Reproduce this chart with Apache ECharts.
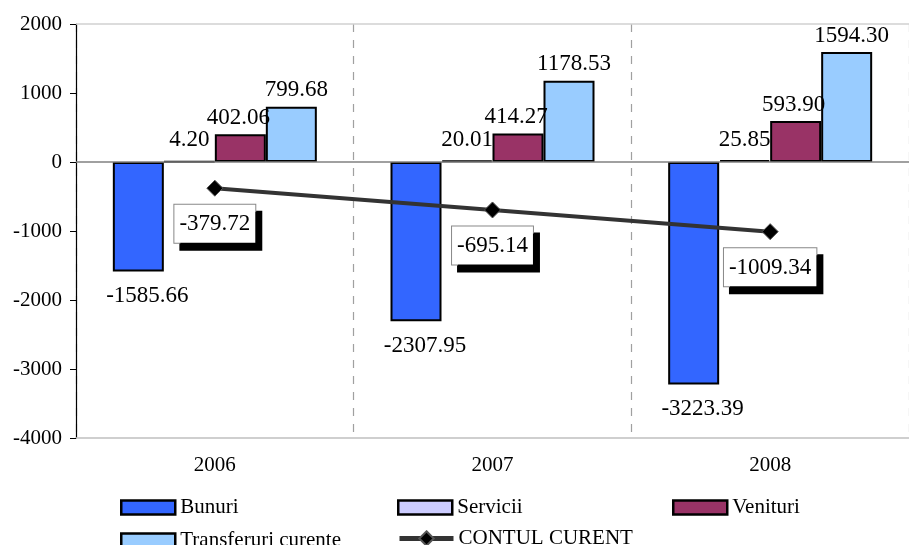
<!DOCTYPE html>
<html>
<head>
<meta charset="utf-8">
<script src="https://cdn.jsdelivr.net/npm/echarts@6/dist/echarts.min.js"></script>
<style>
html,body{margin:0;padding:0;background:#fff;}
#c{width:909px;height:545px;}
</style>
</head>
<body>
<div id="c"></div>
<script>
const years = ['2006', '2007', '2008'];
const bunuri = [-1585.66, -2307.95, -3223.39];
const servicii = [4.20, 20.01, 25.85];
const venituri = [402.06, 414.27, 593.90];
const transferuri = [799.68, 1178.53, 1594.30];
const contul = [-379.72, -695.14, -1009.34];
const yTicks = [-4000, -3000, -2000, -1000, 0, 1000, 2000];

const FONT = 'Liberation Serif';
const LBL = 23;
const chart = echarts.init(document.getElementById('c'));

const fmt = p => p.value.toFixed(2);

function lbl(pos, distance, offset) {
  return { show: true, position: pos, distance: distance, offset: offset || [0, 0],
           formatter: fmt, fontFamily: FONT, fontSize: LBL, color: '#000' };
}

function barSeries(name, data, color, label, extra) {
  return Object.assign({
    name: name,
    type: 'bar',
    data: data,
    barWidth: 51,
    barGap: '0%',
    itemStyle: { color: color, borderColor: '#000', borderWidth: 2 },
    label: label,
    emphasis: { disabled: true }
  }, extra || {});
}

const legendBase = {
  itemWidth: 54,
  itemHeight: 14,
  itemGap: 4,
  textStyle: { fontFamily: FONT, fontSize: 21, color: '#000' },
  selectedMode: false
};
const rectLegend = { icon: 'rect', itemStyle: { borderColor: '#000', borderWidth: 2.5 } };

const option = {
  animation: false,
  backgroundColor: '#fff',
  grid: { left: 76, top: 24, width: 840, height: 414 },
  legend: [
    Object.assign({}, legendBase, rectLegend, { left: 115, top: 492, data: ['Bunuri'] }),
    Object.assign({}, legendBase, rectLegend, { left: 392, top: 492, data: ['Servicii'] }),
    Object.assign({}, legendBase, rectLegend, { left: 667, top: 492, data: ['Venituri'] }),
    Object.assign({}, legendBase, rectLegend, { left: 115, top: 525, data: ['Transferuri curente'] }),
    Object.assign({}, legendBase, { left: 392, top: 523, itemHeight: 18,
      lineStyle: { width: 5, color: '#333333' },
      itemStyle: { color: '#000' },
      data: ['CONTUL CURENT'] })
  ],
  xAxis: {
    type: 'category',
    data: years,
    axisLine: { onZero: false, lineStyle: { color: '#c0c0c0', width: 1.5 } },
    axisTick: { show: false },
    axisLabel: { fontFamily: FONT, fontSize: 21, color: '#000', margin: 17 },
    splitLine: { show: true, lineStyle: { color: '#a0a0a0', type: [8, 8], width: 1.2 } }
  },
  yAxis: {
    type: 'value',
    min: yTicks[0],
    max: yTicks[yTicks.length - 1],
    interval: 1000,
    axisLine: { show: true, lineStyle: { color: '#000', width: 1.2 } },
    axisTick: { show: true, length: 6, lineStyle: { color: '#000' } },
    axisLabel: { fontFamily: FONT, fontSize: 21, color: '#000', margin: 14, formatter: v => String(v) },
    splitLine: { show: false }
  },
  series: [
    barSeries('Bunuri', bunuri, '#3366FF', lbl('bottom', 13, [9, 0]), {
      markLine: {
        silent: true,
        symbol: 'none',
        label: { show: false },
        data: [
          { yAxis: 0, lineStyle: { color: '#808080', width: 1.5, type: 'solid' } },
          { yAxis: yTicks[yTicks.length - 1], lineStyle: { color: '#d0d0d0', width: 1.5, type: 'solid' } }
        ]
      }
    }),
    barSeries('Servicii', servicii, '#CCCCFF', lbl('top', 9, [0, 0])),
    barSeries('Venituri', venituri, '#993366', lbl('top', 5, [-2, 0])),
    barSeries('Transferuri curente', transferuri, '#99CCFF', lbl('top', 5, [5, 0])),
    {
      name: 'CONTUL CURENT',
      type: 'line',
      data: contul,
      z: 5,
      symbol: 'diamond',
      symbolSize: 16,
      lineStyle: { color: '#333333', width: 4 },
      itemStyle: { color: '#000', borderColor: '#555', borderWidth: 1 },
      label: {
        show: true,
        position: 'bottom',
        distance: 8,
        offset: [0, 0],
        formatter: fmt,
        fontFamily: FONT,
        fontSize: LBL,
        color: '#000',
        backgroundColor: '#fff',
        borderColor: '#888',
        borderWidth: 1,
        padding: [8, 5, 7, 5],
        shadowColor: '#000',
        shadowBlur: 0,
        shadowOffsetX: 6,
        shadowOffsetY: 7
      },
      emphasis: { disabled: true }
    }
  ]
};
chart.setOption(option);
</script>
</body>
</html>
